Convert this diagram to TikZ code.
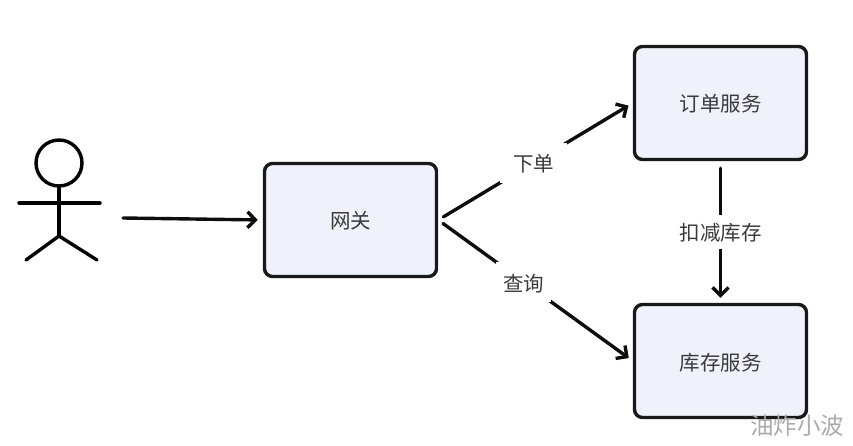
\documentclass[tikz,border=0pt]{standalone}
\usepackage{fontspec}
\setmainfont{Noto Sans CJK SC}
\usetikzlibrary{arrows.meta}
\definecolor{boxfill}{HTML}{EFF2FB}
\definecolor{txt}{HTML}{3A3A3A}
\newcommand{\lowtext}[1]{\raisebox{-9pt}[0pt][0pt]{#1}}
\tikzset{
  svc/.style={draw=black!90,line width=3.4pt,fill=boxfill,rounded corners=8pt,minimum width=172pt,minimum height=113pt,inner sep=0pt,text=txt,font=\fontsize{20.5}{24}\selectfont},
  conn/.style={draw=black!95,line width=3.4pt,line cap=round,-{Straight Barb[length=8pt,width=16pt,line width=3.4pt]}},
  lbl/.style={fill=white,text=txt,inner xsep=7pt,minimum height=40pt,inner ysep=0pt,font=\fontsize{20.5}{24}\selectfont},
  limb/.style={draw=black,line width=3.4pt,line cap=round}
}
\begin{document}
\begin{tikzpicture}[x=1pt,y=-1pt]
\useasboundingbox (0,0) rectangle (853,446);
\node[svc] (gw) at (350.5,220) {\lowtext{网关}};
\node[svc] (order) at (720.5,103) {\lowtext{订单服务}};
\node[svc] (stock) at (720.5,361) {\lowtext{库存服务}};
% person
\node[draw=black,line width=3.4pt,circle,minimum size=46pt,inner sep=0pt] (head) at (59,163) {};
\coordinate (hip) at (59,236);
\coordinate (armL) at (19,203);
\coordinate (armR) at (100,203);
\coordinate (legL) at (26,260);
\coordinate (legR) at (97,260);
\coordinate (pout) at (123,218);
\draw[limb] (head.south) -- (hip);
\draw[limb] (armL) -- (armR);
\draw[limb] (legL) -- (hip) -- (legR);
% connectors
\draw[conn,shorten >=5pt] (pout) -- (gw.west);
\draw[conn,shorten <=6pt,shorten >=5pt] (gw.east) -- node[lbl,pos=0.49,inner xsep=13pt] {\lowtext{下单}} (order.west);
\draw[conn,shorten <=6pt,shorten >=5pt] (gw.east) -- node[lbl,pos=0.44] {\lowtext{查询}} (stock.west);
\draw[conn,shorten <=7pt,shorten >=5pt] (order.south) -- node[lbl,pos=0.5,minimum height=34pt,inner xsep=4pt] {\lowtext{扣减库存}} (stock.north);
% watermark
\node[text=black!33,font=\fontsize{23.5}{26}\selectfont,inner sep=0pt] (wm) at (797,426) {油炸小波};
\end{tikzpicture}
\end{document}
